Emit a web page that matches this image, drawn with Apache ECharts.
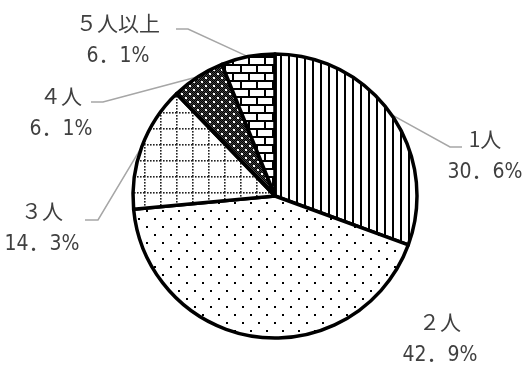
<!DOCTYPE html>
<html><head><meta charset="utf-8">
<script src="https://cdn.jsdelivr.net/npm/echarts@6/dist/echarts.min.js"></script>
<style>html,body{margin:0;padding:0;background:#fff}#c{width:529px;height:366px}</style>
</head><body><div id="c"></div>
<script>
var categories = ['1人', '２人', '３人', '４人', '５人以上'];
var percents = [30.6, 42.9, 14.3, 6.1, 6.1];
var percentLabels = ['30．6%', '42．9%', '14．3%', '6．1%', '6．1%'];

function mk(w, h, draw) {
  var c = document.createElement('canvas');
  c.width = w; c.height = h;
  var g = c.getContext('2d');
  g.fillStyle = '#fff'; g.fillRect(0, 0, w, h);
  g.fillStyle = '#000'; g.strokeStyle = '#000';
  draw(g);
  return { image: c, repeat: 'repeat' };
}
var patVertical = mk(8, 8, function (g) { g.fillRect(0, 0, 2, 8); });
var patDots = mk(16, 16, function (g) { g.fillRect(2, 2, 2, 2); g.fillRect(10, 10, 2, 2); });
var patGrid = mk(16, 16, function (g) {
  g.fillStyle = '#222';
  for (var i = 0; i < 16; i += 3) { g.fillRect(i, 0, 1.6, 1.6); }
  for (var j = 3; j < 16; j += 3) { g.fillRect(0, j, 1.6, 1.6); }
});
var patCheck = mk(8, 8, function (g) {
  for (var y = 0; y < 8; y++) for (var x = 0; x < 8; x++) if ((x + y) % 2 === 0) g.fillRect(x, y, 1, 1);
  g.fillStyle = '#444';
  for (var y2 = 0; y2 < 8; y2++) for (var x2 = 0; x2 < 8; x2++) if ((x2 + y2) % 2 === 1) g.fillRect(x2, y2, 1, 1);
  g.fillStyle = '#fff';
  g.fillRect(1, 1, 2, 2); g.fillRect(5, 5, 2, 2);
});
var patBrick = mk(16, 16, function (g) {
  g.fillRect(0, 0, 16, 2); g.fillRect(0, 8, 16, 2);
  g.fillRect(0, 0, 2, 8); g.fillRect(8, 8, 2, 8);
});
var patterns = [patVertical, patDots, patGrid, patCheck, patBrick];

// label placement (text center) and leader-line bend points
var labelPos = [[485, 156], [440, 339], [42, 228], [61, 113], [118, 40]];
var linePts = [
  [[450, 147], [462, 147]],
  null,
  [[98, 220], [85, 220]],
  [[103, 102], [91, 102]],
  [[188, 29], [176, 29]]
];

var chart = echarts.init(document.getElementById('c'), null, { renderer: 'canvas' });
chart.setOption({
  animation: false,
  series: [{
    type: 'pie',
    center: [275, 196],
    radius: 142,
    startAngle: 90,
    clockwise: true,
    data: categories.map(function (n, i) {
      return { name: n, value: percents[i], itemStyle: { color: patterns[i] } };
    }),
    itemStyle: { borderColor: '#000', borderWidth: 3.5 },
    label: {
      show: true,
      formatter: function (p) { return '{n|' + p.name + '}\n{p|' + percentLabels[p.dataIndex] + '}'; },
      color: '#404040',
      fontFamily: 'Noto Sans CJK JP',
      align: 'center',
      rich: {
        n: { fontSize: 21, lineHeight: 33, color: '#404040', fontFamily: 'Noto Sans CJK JP' },
        p: { fontSize: 21, lineHeight: 33, color: '#404040', fontFamily: '"DejaVu Sans Condensed", "Noto Sans CJK JP"' }
      }
    },
    labelLine: { show: true, lineStyle: { color: '#A6A6A6', width: 1.5 } },
    labelLayout: function (params) {
      var i = params.dataIndex;
      var res = { x: labelPos[i][0], y: labelPos[i][1], align: 'center', verticalAlign: 'middle' };
      if (linePts[i] && params.labelLinePoints) {
        res.labelLinePoints = [params.labelLinePoints[0], linePts[i][0], linePts[i][1]];
      } else if (!linePts[i]) {
        res.labelLinePoints = [[labelPos[i][0], labelPos[i][1]], [labelPos[i][0], labelPos[i][1]], [labelPos[i][0], labelPos[i][1]]];
      }
      return res;
    },
    emphasis: { disabled: true }
  }]
});
</script></body></html>
